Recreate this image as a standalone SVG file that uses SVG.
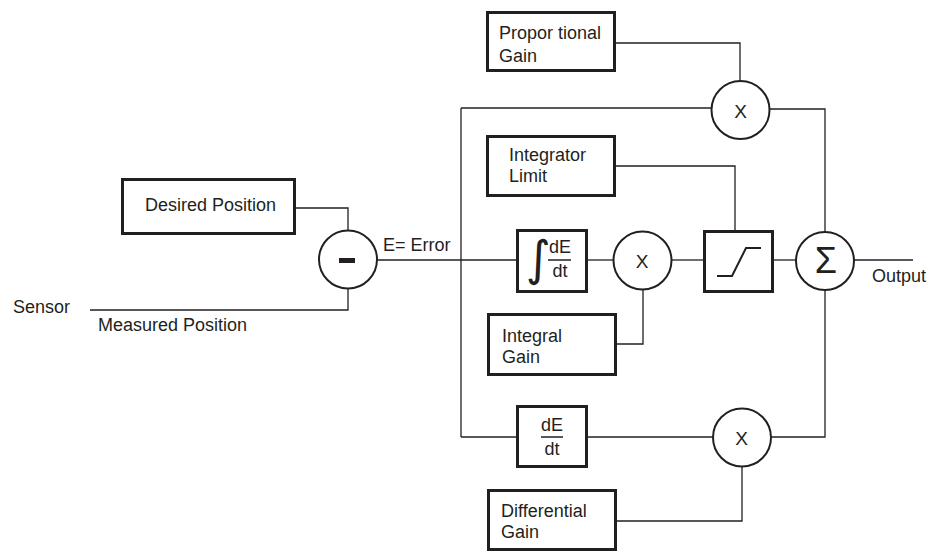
<svg xmlns="http://www.w3.org/2000/svg" width="930" height="552" viewBox="0 0 930 552">
<style>
.box{fill:#fff;stroke:#231f20;stroke-width:3}
.circ{fill:#fff;stroke:#231f20;stroke-width:2}
.wire{fill:none;stroke:#231f20;stroke-width:1.3}
text{font-family:"Liberation Sans",Arial,sans-serif;font-size:18px;fill:#231f20}
.mid{text-anchor:middle}
text.x{font-size:19px;text-anchor:middle}
text.sig{font-size:36px;text-anchor:middle}
text.int{font-family:"DejaVu Sans",sans-serif;font-size:48px;text-anchor:middle}
</style>
<rect width="930" height="552" fill="#fff"/>
<g id="connectors">
<path class="wire" d="M296 208H348V230"/>
<path class="wire" d="M90 310H348V288"/>
<path class="wire" d="M377 260H461"/>
<path class="wire" d="M461 108V437"/>
<path class="wire" d="M461 108H711"/>
<path class="wire" d="M461 260H516"/>
<path class="wire" d="M588 260H613"/>
<path class="wire" d="M672 260H703"/>
<path class="wire" d="M774 260H796"/>
<path class="wire" d="M616 43H740V81"/>
<path class="wire" d="M770 109H825V232"/>
<path class="wire" d="M616 166H735V230"/>
<path class="wire" d="M616 344H643V290"/>
<path class="wire" d="M461 437H516"/>
<path class="wire" d="M588 437H713"/>
<path class="wire" d="M771 437H825V290"/>
<path class="wire" d="M616 521H742V467"/>
<path class="wire" d="M854 260H913"/>
</g>
<g id="desired">
<rect class="box" x="122.5" y="179.5" width="172" height="54"/>
<text x="145" y="211">Desired Position</text>
</g>
<g id="sensor">
<text x="13" y="313">Sensor</text>
<text x="98" y="331">Measured Position</text>
</g>
<g id="subtract">
<circle class="circ" cx="348" cy="259.5" r="29"/>
<rect x="339" y="258" width="16" height="5" fill="#231f20"/>
<text x="383" y="251">E= Error</text>
</g>
<g id="prop-gain">
<rect class="box" x="487.5" y="12.5" width="127" height="58"/>
<text x="499" y="39">Propor tional</text>
<text x="499" y="61.5">Gain</text>
</g>
<g id="mult-p">
<circle class="circ" cx="740.5" cy="110" r="29"/>
<text class="x" x="740.5" y="118">X</text>
</g>
<g id="int-limit">
<rect class="box" x="487.5" y="136.5" width="127" height="59"/>
<text x="509" y="161">Integrator</text>
<text x="509" y="182">Limit</text>
</g>
<g id="integrator">
<rect class="box" x="517.5" y="230.5" width="69" height="61"/>
<text class="int" x="538.5" y="275">∫</text>
<text class="mid" x="560" y="253">dE</text>
<line x1="548" y1="260" x2="571" y2="260" stroke="#231f20" stroke-width="1.5"/>
<text class="mid" x="560" y="277">dt</text>
</g>
<g id="mult-i">
<circle class="circ" cx="642.5" cy="260.5" r="29"/>
<text class="x" x="642" y="268">X</text>
</g>
<g id="int-gain">
<rect class="box" x="488.5" y="314.5" width="127" height="60"/>
<text x="502" y="342">Integral</text>
<text x="502" y="363">Gain</text>
</g>
<g id="limiter">
<rect class="box" x="704.5" y="231.5" width="68" height="60"/>
<path d="M717 276H732L746 248H761" fill="none" stroke="#231f20" stroke-width="2"/>
</g>
<g id="sum">
<circle class="circ" cx="825" cy="261" r="29"/>
<text class="sig" x="826" y="273">Σ</text>
<text x="872" y="282">Output</text>
</g>
<g id="derivative">
<rect class="box" x="517.5" y="406.5" width="69" height="60"/>
<text class="mid" x="552" y="431">dE</text>
<line x1="541" y1="437" x2="563" y2="437" stroke="#231f20" stroke-width="1.5"/>
<text class="mid" x="552" y="455">dt</text>
</g>
<g id="mult-d">
<circle class="circ" cx="742" cy="437.5" r="29"/>
<text class="x" x="741.5" y="445">X</text>
</g>
<g id="diff-gain">
<rect class="box" x="488.5" y="490.5" width="127" height="59"/>
<text x="501" y="517">Differential</text>
<text x="501" y="538">Gain</text>
</g>
</svg>
